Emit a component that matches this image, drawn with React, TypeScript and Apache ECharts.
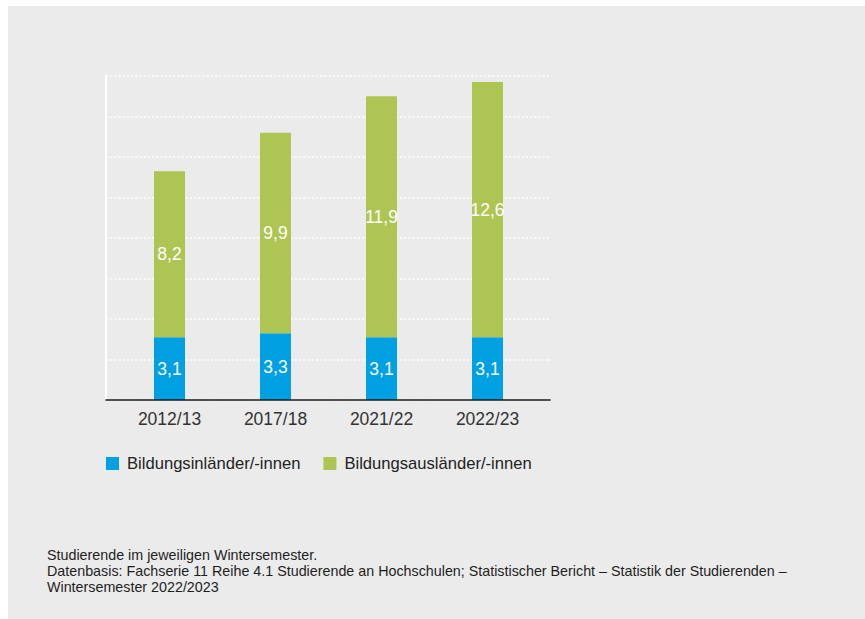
import React, { useEffect, useRef } from "react";
import * as echarts from "echarts";

const categories = ["2012/13", "2017/18", "2021/22", "2022/23"];
const inlaender = [3.1, 3.3, 3.1, 3.1];
const auslaender = [8.2, 9.9, 11.9, 12.6];
const seriesNames = ["Bildungsinländer/-innen", "Bildungsausländer/-innen"];
const footerLines = [
  "Studierende im jeweiligen Wintersemester.",
  "Datenbasis: Fachserie 11 Reihe 4.1 Studierende an Hochschulen; Statistischer Bericht – Statistik der Studierenden –",
  "Wintersemester 2022/2023",
];

const FONT = "'Liberation Sans', Arial, Helvetica, sans-serif";

export default function App() {
  const ref = useRef<HTMLDivElement>(null);
  useEffect(() => {
    if (!ref.current) return;
    const chart = echarts.init(ref.current, null, { renderer: "svg" });
    const label = {
      show: true,
      position: "inside",
      color: "#ffffff",
      fontSize: 17.5,
      fontFamily: FONT,
      formatter: (p: any) => String(p.value).replace(".", ","),
    };
    chart.setOption({
      animation: false,
      backgroundColor: "#ebebeb",
      textStyle: { fontFamily: FONT },
      title: {
        text: footerLines.join("\n"),
        left: 39,
        top: 541,
        padding: 0,
        textStyle: { fontSize: 14.3, fontWeight: "normal", color: "#1e1e1e", lineHeight: 16, fontFamily: FONT },
      },
      legend: {
        left: 98,
        top: 449,
        padding: 0,
        itemWidth: 13,
        itemHeight: 13,
        itemGap: 23,
        icon: "rect",
        textStyle: { fontSize: 16.6, color: "#222", fontFamily: FONT, padding: [0, 0, 0, 3] },
        data: seriesNames,
      },
      grid: [
        { left: 108.5, top: 70, width: 424, height: 324 },
        { left: 98, top: 70, width: 444, height: 324 },
      ],
      xAxis: [
        {
          type: "category",
          gridIndex: 0,
          data: categories,
          axisLine: { show: false },
          axisTick: { show: false },
          axisLabel: { fontSize: 17.5, color: "#333", margin: 10, fontFamily: FONT },
        },
        {
          type: "value",
          gridIndex: 1,
          min: 0,
          max: 1,
          z: 5,
          axisLine: { show: true, lineStyle: { color: "#1a1a1a", width: 1.6 } },
          axisTick: { show: false },
          axisLabel: { show: false },
          splitLine: { show: false },
        },
      ],
      yAxis: [
        {
          type: "value",
          gridIndex: 0,
          min: 0,
          max: 16,
          interval: 2,
          axisLine: { show: false },
          axisTick: { show: false },
          axisLabel: { show: false },
          splitLine: { show: false },
        },
        {
          type: "value",
          gridIndex: 1,
          min: 0,
          max: 16,
          interval: 2,
          z: 0,
          axisLine: { show: true, lineStyle: { color: "#ffffff", width: 2 } },
          axisTick: { show: false },
          axisLabel: { show: false },
          splitLine: { show: true, lineStyle: { color: "#ffffff", width: 1.6, type: [2, 2.2] } },
        },
      ],
      series: [
        {
          name: seriesNames[0],
          type: "bar",
          stack: "total",
          xAxisIndex: 0,
          yAxisIndex: 0,
          barWidth: 31,
          data: inlaender,
          itemStyle: { color: "#00a0e3" },
          label,
        },
        {
          name: seriesNames[1],
          type: "bar",
          stack: "total",
          xAxisIndex: 0,
          yAxisIndex: 0,
          barWidth: 31,
          data: auslaender,
          itemStyle: { color: "#aec553" },
          label,
        },
      ],
    });
    return () => chart.dispose();
  }, []);
  return (
    <div
      ref={ref}
      style={{ position: "absolute", left: 8, top: 6, width: 857, height: 613 }}
    />
  );
}
